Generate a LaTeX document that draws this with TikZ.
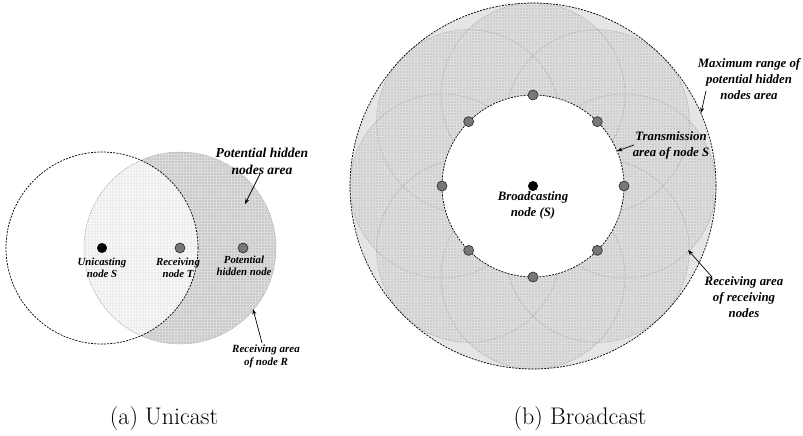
\documentclass[tikz,border=0pt]{standalone}
\usepackage{fontspec}
\newfontfamily\lblfont{Liberation Serif}
\usetikzlibrary{patterns,arrows.meta,calc}
\definecolor{hidarea}{gray}{0.79}
\definecolor{hidgrid}{gray}{0.86}
\definecolor{overlap}{gray}{0.92}
\definecolor{overgrid}{gray}{0.97}
\definecolor{rcvarea}{gray}{0.81}
\definecolor{rcvgrid}{gray}{0.87}
\definecolor{outarea}{gray}{0.90}
\definecolor{dotgray}{gray}{0.47}

\begin{document}
\begin{tikzpicture}[x=1pt, y=-1pt, >={Stealth[length=5.5pt,width=4pt]}]
    \tikzstyle{lbl} = [font=\lblfont\bfseries\itshape\fontsize{12.8}{16}\selectfont, align=center, inner sep=0pt]
    \tikzstyle{slbl} = [font=\lblfont\bfseries\itshape\fontsize{10.8}{12}\selectfont, align=center, inner sep=0pt]
    \tikzstyle{src} = [circle, draw=black, fill=black, minimum size=9.5pt, inner sep=0pt]
    \tikzstyle{rcv} = [circle, draw=black!85, line width=0.6pt, fill=dotgray, minimum size=10pt, inner sep=0pt]
    \tikzstyle{rangeline} = [draw=black, dash pattern=on 2pt off 1.2pt, line width=0.7pt]
    \tikzstyle{rimline} = [gray!65, dash pattern=on 1.5pt off 1pt, line width=0.5pt]
    \tikzstyle{pointer} = [->, line width=0.7pt]
    \tikzstyle{captext} = [font=\fontsize{24}{28}\selectfont, anchor=base]

    \useasboundingbox (0,0) rectangle (803,436);

    % (a) unicast
    \coordinate (uc) at (102,248);
    \coordinate (rc) at (180,248);
    \fill[hidarea] (rc) circle (96pt);
    \fill[pattern=grid, pattern color=hidgrid] (rc) circle (96pt);
    \begin{scope}
        \clip (uc) circle (96pt);
        \fill[overlap] (rc) circle (96pt);
        \fill[pattern=grid, pattern color=overgrid] (rc) circle (96pt);
    \end{scope}
    \draw[rimline] (rc) circle (96pt);
    \draw[rangeline] (uc) circle (96pt);

    \node[src] (s) at (uc) {};
    \node[rcv] (t) at (rc) {};
    \node[rcv] (h) at (243,248) {};
    \node[slbl] (slabel) at (102,267.5) {Unicasting\\node S};
    \node[slbl] (tlabel) at (178,267.5) {Receiving\\node T};
    \node[slbl] (hlabel) at (244,266) {Potential\\hidden node};
    \node[lbl, font=\lblfont\bfseries\itshape\fontsize{13.6}{17}\selectfont] (hidlabel) at (262,161) {Potential hidden\\nodes area};
    \node[slbl, font=\lblfont\bfseries\itshape\fontsize{11}{13}\selectfont] (rlabel) at (266,356.5) {Receiving area\\of node R};

    \coordinate (hidtip) at (245,204);
    \coordinate (rtip) at (253,309);
    \draw[pointer] (260,174) -- (hidtip);
    \draw[pointer] (262,343) -- (rtip);

    % (b) broadcast
    \coordinate (bc) at (533,186);
    \foreach \i in {1,...,8}
        \coordinate (p\i) at ($(bc)+({45*(\i-1)}:91pt)$);
    \fill[outarea] (bc) circle (183pt);
    \foreach \i in {1,...,8} {
        \fill[rcvarea] (p\i) circle (92pt);
        \fill[pattern=grid, pattern color=rcvgrid] (p\i) circle (92pt);
    }
    \foreach \i in {1,...,8}
        \draw[rimline] (p\i) circle (92pt);
    \fill[white] (bc) circle (91pt);
    \draw[rangeline] (bc) circle (91pt);
    \draw[rangeline] (bc) circle (183pt);

    \node[src] (b) at (bc) {};
    \foreach \i in {1,...,8}
        \node[rcv] (n\i) at (p\i) {};
    \node[lbl] (blabel) at (533,205) {Broadcasting\\node (S)};
    \node[lbl] (maxlabel) at (749,79) {Maximum range of\\potential hidden\\nodes area};
    \node[lbl] (txlabel) at (671,145) {Transmission\\area of node S};
    \node[lbl] (rxlabel) at (744,297) {Receiving area\\of receiving\\nodes};

    \coordinate (maxtip) at (701,113);
    \coordinate (txtip) at (617,151);
    \coordinate (rxtip) at (688,250);
    \draw[pointer] (706,91) -- (maxtip);
    \draw[pointer] (634,145) -- (txtip);
    \draw[pointer] (712,277) -- (rxtip);

    \node[captext] (capa) at (164,424) {(a) Unicast};
    \node[captext] (capb) at (580,424) {(b) Broadcast};
\end{tikzpicture}
\end{document}
